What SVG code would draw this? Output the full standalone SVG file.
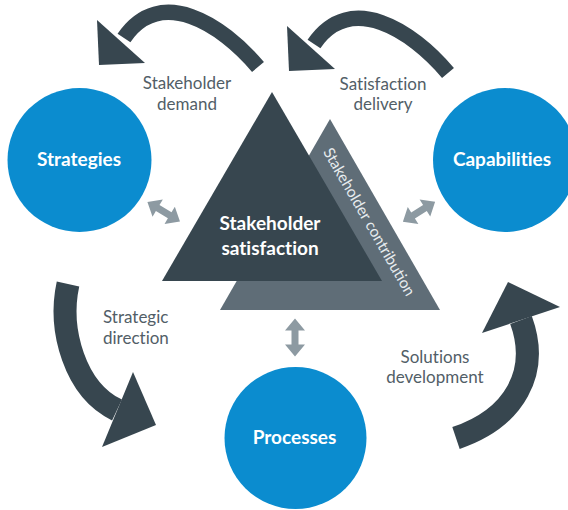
<svg xmlns="http://www.w3.org/2000/svg" width="568" height="510" viewBox="0 0 568 510">
<defs>
<style>
.circle{fill:#0b8ccf}
.ctext{font-family:Lato,"Liberation Sans",sans-serif;font-weight:bold;font-size:19px;fill:#ffffff;text-anchor:middle;font-variant-ligatures:none}
.label{font-family:Lato,"Liberation Sans",sans-serif;font-size:17px;fill:#525e67;text-anchor:middle;font-variant-ligatures:none}
.flow{fill:none;stroke:#37464f}
.head{fill:#37464f}
.dbl{fill:#8d9aa2}
</style>
<polygon id="dblarrow" points="-19,0 -7,-10 -7,-3.5 7,-3.5 7,-10 19,0 7,10 7,3.5 -7,3.5 -7,10"/>
</defs>
<rect width="568" height="510" fill="#ffffff"/>

<g id="connectors">
  <g id="arrow-stakeholder-demand">
    <path class="flow" stroke-width="15.5" d="M 258 67 C 222 24, 160 -15, 124 38"/>
    <polygon class="head" points="97,20 99,65 145,63"/>
  </g>
  <g id="arrow-satisfaction-delivery" transform="translate(190,6)">
    <path class="flow" stroke-width="15.5" d="M 258 67 C 222 24, 160 -15, 124 38"/>
    <polygon class="head" points="97,20 99,65 145,63"/>
  </g>
  <g id="arrow-strategic-direction">
    <path class="flow" stroke-width="23" d="M 68 284 C 58 330, 75 390, 117 410"/>
    <polygon class="head" points="133,372 156,425 102,447"/>
  </g>
  <g id="arrow-solutions-development">
    <path class="flow" stroke-width="23" d="M 456 438 C 515 418, 540 372, 521 320"/>
    <polygon class="head" points="508,282 560,307 482,333"/>
  </g>
  <use href="#dblarrow" class="dbl" transform="translate(163.7,211.7) rotate(31)"/>
  <use href="#dblarrow" class="dbl" transform="translate(419,211.7) rotate(-32)"/>
  <use href="#dblarrow" class="dbl" transform="translate(295,337.5) rotate(90)"/>
  <text class="label" x="187" y="89">Stakeholder</text>
  <text class="label" x="187" y="110">demand</text>
  <text class="label" x="383" y="90">Satisfaction</text>
  <text class="label" x="383" y="110">delivery</text>
  <text class="label" x="103" y="323" style="text-anchor:start">Strategic</text>
  <text class="label" x="103" y="344" style="text-anchor:start">direction</text>
  <text class="label" x="435" y="363">Solutions</text>
  <text class="label" x="435" y="383">development</text>
</g>

<g id="stakeholder-contribution">
  <polygon points="330,119 220,310 440,310" fill="#5f6d77"/>
  <text transform="translate(369,222) rotate(60)" x="0" y="5" font-family="Lato,'Liberation Sans',sans-serif" font-size="15.5" fill="#e6ebee" text-anchor="middle">Stakeholder contribution</text>
</g>

<g id="stakeholder-satisfaction">
  <polygon points="272,92 162,281 382,281" fill="#37464f"/>
  <text class="ctext" x="270" y="230">Stakeholder</text>
  <text class="ctext" x="270" y="255">satisfaction</text>
</g>

<g id="strategies">
  <circle class="circle" cx="79.5" cy="160" r="72"/>
  <text class="ctext" x="79" y="166">Strategies</text>
</g>

<g id="capabilities">
  <circle class="circle" cx="505" cy="160" r="72"/>
  <text class="ctext" x="502" y="166">Capabilities</text>
</g>

<g id="processes">
  <circle class="circle" cx="295.5" cy="438" r="71"/>
  <text class="ctext" x="294.5" y="444">Processes</text>
</g>
</svg>
